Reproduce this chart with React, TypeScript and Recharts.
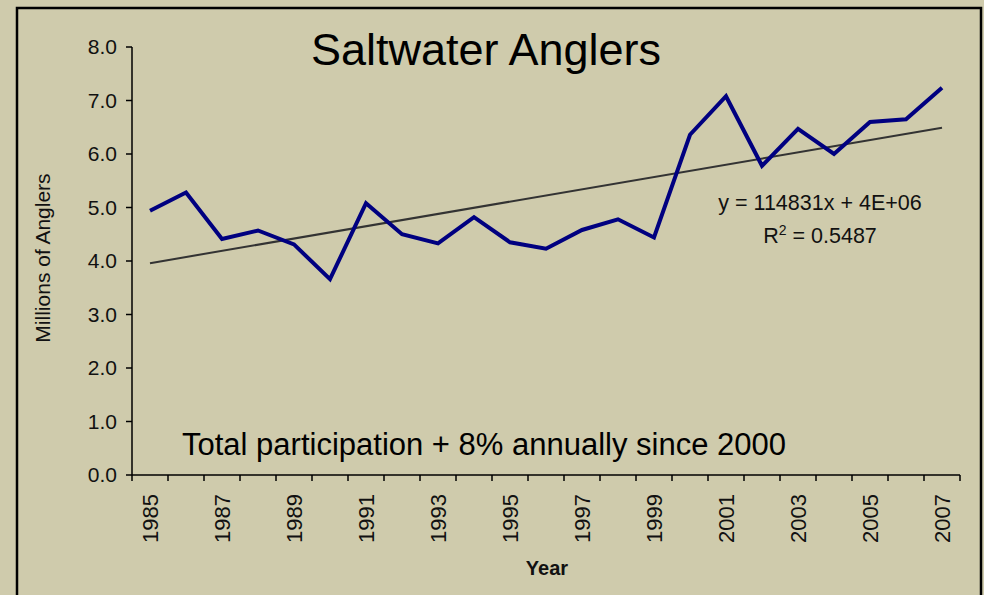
import { LineChart, Line, XAxis, YAxis, ReferenceLine } from 'recharts';

const years = [
  1985, 1986, 1987, 1988, 1989, 1990, 1991, 1992, 1993, 1994, 1995, 1996,
  1997, 1998, 1999, 2000, 2001, 2002, 2003, 2004, 2005, 2006, 2007,
];
// millions of anglers
const anglers = [
  4.94, 5.28, 4.41, 4.57, 4.31, 3.66, 5.08, 4.5, 4.33, 4.82, 4.35, 4.23,
  4.58, 4.78, 4.44, 6.36, 7.08, 5.78, 6.47, 6.0, 6.6, 6.65, 7.24,
];
const labelYears = [1985, 1987, 1989, 1991, 1993, 1995, 1997, 1999, 2001, 2003, 2005, 2007];
const yTicks = [0, 1, 2, 3, 4, 5, 6, 7, 8];
// linear trend end points
const trendYears = [1985, 2007];
const trendValues = [3.96, 6.49];

const BG = '#cfcbac';
const FONT = '"Liberation Sans", Arial, sans-serif';

const data = years.map((year, i) => ({ year, anglers: anglers[i] }));
// tick marks sit between the categories
const boundaries = [...years.map((y) => y - 0.5), years[years.length - 1] + 0.5];
const domain = [boundaries[0], boundaries[boundaries.length - 1]];

function YearTick({ x, y, payload }: any) {
  return (
    <text
      transform={`translate(${x + 8},${y + 10}) rotate(-90)`}
      textAnchor="end"
      fontSize={22}
      fontFamily={FONT}
      fill="#111"
    >
      {payload.value}
    </text>
  );
}

export default function App() {
  return (
    <div style={{ position: 'fixed', left: 0, top: 0, width: 984, height: 595, background: BG }}>
      <LineChart
        width={984}
        height={595}
        data={data}
        margin={{ top: 47, right: 24, bottom: 59, left: 0 }}
      >
        <XAxis
          xAxisId="bounds"
          type="number"
          dataKey="year"
          domain={domain}
          ticks={boundaries}
          interval={0}
          tick={() => null}
          height={1}
          tickSize={6}
          stroke="#000"
          strokeWidth={1.5}
        />
        <XAxis
          xAxisId="labels"
          type="number"
          dataKey="year"
          domain={domain}
          ticks={labelYears}
          interval={0}
          axisLine={false}
          tickLine={false}
          height={60}
          tick={<YearTick />}
        />
        <YAxis
          type="number"
          domain={[0, 8]}
          ticks={yTicks}
          interval={0}
          width={132}
          tickSize={6}
          tickMargin={9}
          tickFormatter={(v: number) => v.toFixed(1)}
          tick={{ fontSize: 21, fontFamily: FONT, fill: '#111' }}
          stroke="#000"
          strokeWidth={1.5}
        />
        <ReferenceLine
          xAxisId="labels"
          segment={[
            { x: trendYears[0], y: trendValues[0] },
            { x: trendYears[1], y: trendValues[1] },
          ]}
          stroke="#333"
          strokeWidth={2}
          ifOverflow="visible"
        />
        <Line
          xAxisId="labels"
          dataKey="anglers"
          stroke="#000080"
          strokeWidth={4}
          dot={false}
          isAnimationActive={false}
          strokeLinejoin="miter"
        />
      </LineChart>
      <svg
        width={984}
        height={595}
        style={{ position: 'absolute', left: 0, top: 0, pointerEvents: 'none' }}
      >
        <rect x={17} y={8} width={964} height={600} fill="none" stroke="#000" strokeWidth={2.5} />
        <text x={486} y={65} textAnchor="middle" fontSize={45} fontFamily={FONT} fill="#000">
          Saltwater Anglers
        </text>
        <text x={820} y={210} textAnchor="middle" fontSize={21.5} fontFamily={FONT} fill="#111">
          y = 114831x + 4E+06
        </text>
        <text x={820} y={243} textAnchor="middle" fontSize={21.5} fontFamily={FONT} fill="#111">
          R<tspan dy={-8} fontSize={14}>2</tspan>
          <tspan dy={8}> = 0.5487</tspan>
        </text>
        <text x={182} y={455} fontSize={31} fontFamily={FONT} fill="#000">
          Total participation + 8% annually since 2000
        </text>
        <text
          transform="translate(50,258) rotate(-90)"
          textAnchor="middle"
          fontSize={21}
          fontFamily={FONT}
          fill="#111"
        >
          Millions of Anglers
        </text>
        <text x={547} y={575} textAnchor="middle" fontSize={20} fontWeight="bold" fontFamily={FONT} fill="#111">
          Year
        </text>
      </svg>
    </div>
  );
}
